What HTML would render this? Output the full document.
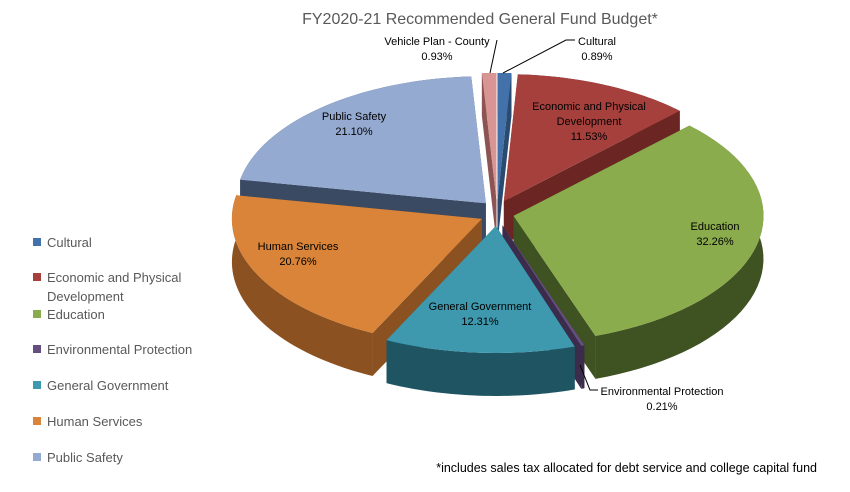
<!DOCTYPE html>
<html><head><meta charset="utf-8"><style>
body{margin:0;background:#fff;width:850px;height:487px;overflow:hidden;font-family:"Liberation Sans",sans-serif}
svg text{font-family:"Liberation Sans",sans-serif}
</style></head><body>
<svg id="c" width="850" height="487">
<text x="480" y="24" text-anchor="middle" font-size="16" fill="#595959">FY2020-21 Recommended General Fund Budget*</text>
<g id="pie"></g>
<g id="legend"></g>
<text x="817" y="472" text-anchor="end" font-size="12.5" fill="#000">*includes sales tax allocated for debt service and college capital fund</text>
</svg>
<script>
const categories=["Cultural","Economic and Physical Development","Education","Environmental Protection","General Government","Human Services","Public Safety","Vehicle Plan - County"];
const values=[0.89,11.53,32.26,0.21,12.31,20.76,21.10,0.93];
const labels=["0.89%","11.53%","32.26%","0.21%","12.31%","20.76%","21.10%","0.93%"];
const colors=["#4372aa","#a6403d","#8bac4c","#654f80","#3e98ae","#d98439","#95aad1","#d89593"];
const sides=["#2a4a70","#6b2624","#3f5222","#3b2c4c","#1f5563","#8c5121","#3a4a63","#8c5553"];
const NS="http://www.w3.org/2000/svg";
const cx=497,cy=213,rx=250,ry=127,depth=43,ex=13;
const pie=document.getElementById('pie');
function pt(t,r){return [cx+rx*r*Math.sin(t), cy-ry*r*Math.cos(t)];}
function mk(tag,attrs,parent){const e=document.createElementNS(NS,tag);for(const k in attrs)e.setAttribute(k,attrs[k]);parent.appendChild(e);return e;}
const total=values.reduce((a,b)=>a+b,0);
let acc=0;const slices=[];
values.forEach((v,i)=>{const a0=acc/total*2*Math.PI;acc+=v;const a1=acc/total*2*Math.PI;slices.push({i,a0,a1,m:(a0+a1)/2});});
slices.slice().sort((a,b)=>(-Math.cos(a.m))-(-Math.cos(b.m))).forEach(s=>{
  const ox=ex*Math.sin(s.m)*1.3, oy=-ex*Math.cos(s.m);
  const P=(t)=>{const p=pt(t,1);return [p[0]+ox,p[1]+oy];};
  const C=[cx+ox,cy+oy];
  const g=mk('g',{},pie);
  
  
  [s.a0,s.a1].forEach(t=>{const p=P(t);
    mk('polygon',{points:`${C[0]},${C[1]} ${p[0]},${p[1]} ${p[0]},${p[1]+depth} ${C[0]},${C[1]+depth}`,fill:sides[s.i]},g);});
  const n=40;let top=[],bot=[];
  for(let k=0;k<=n;k++){const t=s.a0+(s.a1-s.a0)*k/n;const p=P(t);top.push(p);bot.push([p[0],p[1]+depth]);}
  mk('polygon',{points:top.concat(bot.reverse()).map(p=>p.join(',')).join(' '),fill:sides[s.i]},g);
  let d=`M${C[0]},${C[1]} `+top.map(p=>'L'+p[0]+','+p[1]).join(' ')+' Z';
  mk('path',{d,fill:colors[s.i]},g);
});
const lab=[[597,45,"Cultural"],[589,110,"Economic and Physical|Development"],[715,230,"Education"],[662,395,"Environmental Protection"],[480,310,"General Government"],[298,250,"Human Services"],[354,120,"Public Safety"],[437,45,"Vehicle Plan - County"]];
lab.forEach((l,i)=>{const lines=l[2].split('|');lines.push(labels[i]);
  const t=mk('text',{x:l[0],y:l[1],'text-anchor':'middle','font-size':11,fill:'#000'},document.getElementById('c'));
  
  
  lines.forEach((s,j)=>{const ts=mk('tspan',{x:l[0],dy:j?15:0},t);ts.textContent=s;});
});
const svg=document.getElementById('c');
mk('polyline',{points:"575,40 566,40 503,73",fill:"none",stroke:"#000","stroke-width":1},svg);
mk('polyline',{points:"497,40 490,73",fill:"none",stroke:"#000","stroke-width":1},svg);
mk('polyline',{points:"598,390 590,390 580,365",fill:"none",stroke:"#000","stroke-width":1},svg);
const lg=document.getElementById('legend');
const ly=[242,277,314,349,385,421,457];
[0,1,2,3,4,5,6].forEach((i,k)=>{
  const r=mk('rect',{x:33,y:ly[k]-4,width:8,height:8,fill:colors[i]},lg);
  
  
  const lines=categories[i]==="Economic and Physical Development"?["Economic and Physical","Development"]:[categories[i]];
  lines.forEach((s,j)=>{const t=mk('text',{x:47,y:ly[k]+5+j*19,'font-size':13,fill:'#595959'},lg);t.textContent=s;
    
    });
});
</script>
</body></html>
